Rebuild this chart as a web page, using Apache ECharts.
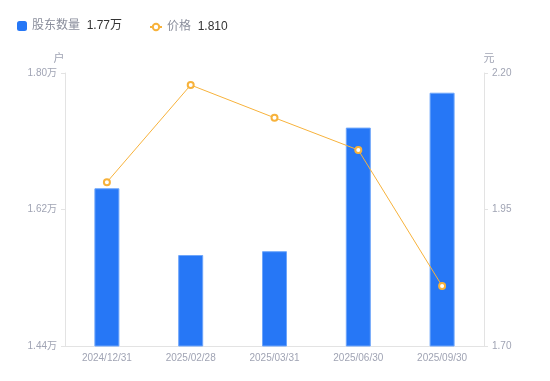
<!DOCTYPE html>
<html><head><meta charset="utf-8">
<script src="https://cdn.jsdelivr.net/npm/echarts@6/dist/echarts.min.js"></script>
<style>html,body{margin:0;padding:0;background:#fff}#c{width:550px;height:381px}</style>
</head><body><div id="c"></div>
<script>
const categories = ['2024/12/31','2025/02/28','2025/03/31','2025/06/30','2025/09/30'];
const holders = [1.648, 1.560, 1.565, 1.728, 1.774];
const prices = [2.000, 2.178, 2.118, 2.059, 1.810];
const leftTicks = [1.44, 1.62, 1.80];
const rightTicks = [1.70, 1.95, 2.20];

const chart = echarts.init(document.getElementById('c'));
const font = '"Liberation Sans", "Noto Sans CJK SC", sans-serif';
const axisGray = '#a0a4b4';
const rich = {
  a: { color: '#8a8e9c', fontSize: 12, fontFamily: font },
  b: { color: '#333', fontSize: 12, fontFamily: font }
};
chart.setOption({
  animation: false,
  textStyle: { fontFamily: font },
  legend: [
    {
      left: 12, top: 15, itemWidth: 10, itemHeight: 10,
      data: [{ name: '股东数量', icon: 'roundRect', itemStyle: { borderWidth: 0 } }],
      formatter: name => '{a|' + name + '}  {b|' + holders[holders.length - 1].toFixed(2) + '万}',
      textStyle: { rich: rich }
    },
    {
      left: 144, top: 16, itemWidth: 12, itemHeight: 8, itemGap: 4,
      data: [{ name: '价格' }],
      formatter: name => '{a|' + name + '}  {b|' + prices[prices.length - 1].toFixed(3) + '}',
      textStyle: { rich: rich }
    }
  ],
  grid: { left: 65, right: 66, top: 73, bottom: 35 },
  xAxis: {
    type: 'category', data: categories,
    axisLine: { lineStyle: { color: '#e3e3e3' } },
    axisTick: { show: false },
    axisLabel: { color: axisGray, fontSize: 10, margin: 7 }
  },
  yAxis: [
    {
      type: 'value', name: '户', min: leftTicks[0], max: leftTicks[2], interval: leftTicks[1] - leftTicks[0],
      nameTextStyle: { color: axisGray, fontSize: 11, padding: [0, 12, 0, 0] }, nameGap: 9,
      axisLine: { show: true, lineStyle: { color: '#e3e3e3' } },
      axisTick: { show: true, length: 4, lineStyle: { color: '#e3e3e3' } },
      splitLine: { show: false },
      axisLabel: { color: axisGray, fontSize: 10, margin: 8, formatter: v => v.toFixed(2) + '万' }
    },
    {
      type: 'value', name: '元', min: rightTicks[0], max: rightTicks[2], interval: rightTicks[1] - rightTicks[0],
      nameTextStyle: { color: axisGray, fontSize: 11, padding: [0, 0, 0, 10] }, nameGap: 9,
      axisLine: { show: true, lineStyle: { color: '#e3e3e3' } },
      axisTick: { show: true, length: 4, lineStyle: { color: '#e3e3e3' } },
      splitLine: { show: false },
      axisLabel: { color: axisGray, fontSize: 10, margin: 8, formatter: v => v.toFixed(2) }
    }
  ],
  series: [
    {
      name: '股东数量', type: 'bar', data: holders, barWidth: 25, yAxisIndex: 0,
      itemStyle: { color: '#2677f6', borderColor: '#6ea6fb', borderWidth: 1 }
    },
    {
      name: '价格', type: 'line', data: prices, yAxisIndex: 1,
      symbol: 'circle', symbolSize: 6,
      lineStyle: { color: '#f7b23b', width: 1 },
      itemStyle: { color: '#fff', borderColor: '#f7b23b', borderWidth: 2 }
    }
  ]
});
</script></body></html>
